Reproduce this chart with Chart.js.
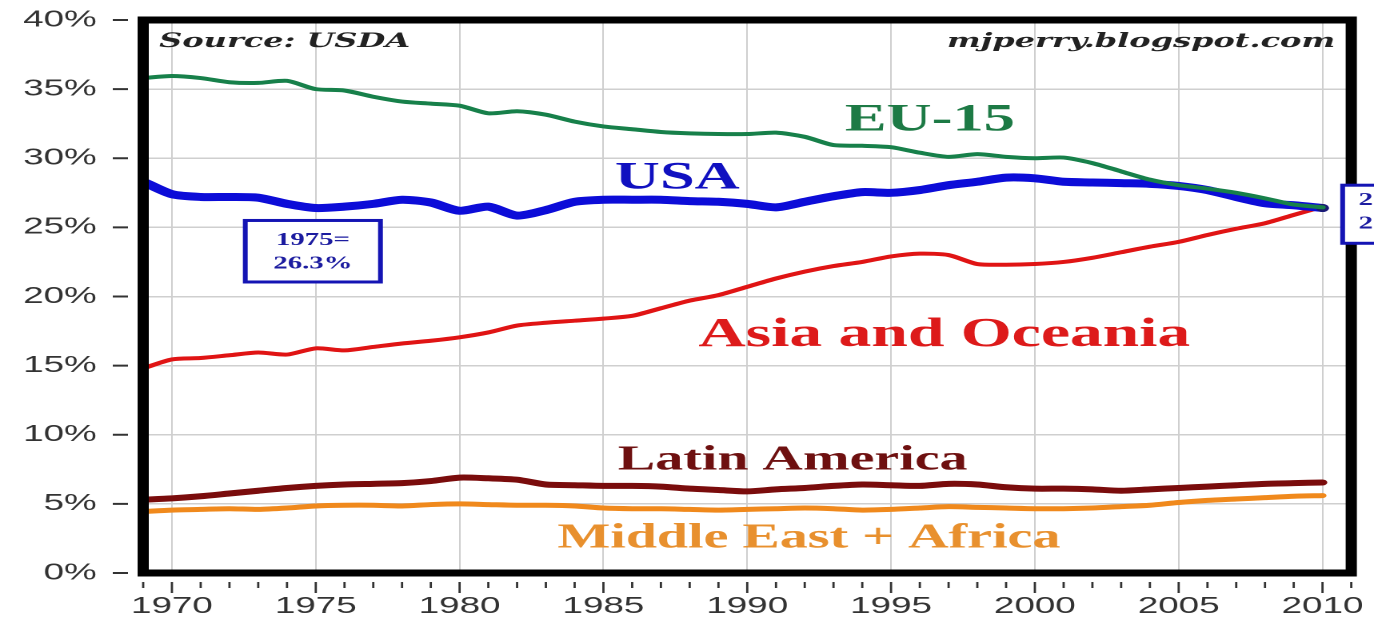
<!DOCTYPE html>
<html>
<head>
<meta charset="utf-8">
<script src="https://cdn.jsdelivr.net/npm/chart.js@4"></script>
<style>
  html, body { margin: 0; padding: 0; background: #fff; overflow: hidden; }
  /* the source picture is stretched sideways, so the chart is drawn narrow and widened */
  #wrap { width: 859px; height: 626px; transform: scaleX(1.5995); transform-origin: 0 0; }
</style>
</head>
<body>
<div id="wrap"><canvas id="myChart" width="859" height="626"></canvas></div>
<script>
// data (share of world, %)
const years = [];
for (let yr = 1969; yr <= 2010; yr++) years.push(yr);

const usa = [28.3, 27.4, 27.2, 27.2, 27.15, 26.7, 26.4, 26.5, 26.7, 27.0,
  26.8, 26.2, 26.5, 25.85, 26.25, 26.85, 27.0, 27.0, 27.0, 26.9,
  26.85, 26.7, 26.45, 26.85, 27.25, 27.55, 27.5, 27.7, 28.05, 28.3,
  28.6, 28.55, 28.3, 28.25, 28.2, 28.15, 28.0, 27.7, 27.2, 26.75,
  26.6, 26.4];
const eu15 = [35.8, 35.95, 35.8, 35.5, 35.45, 35.6, 35.0, 34.9, 34.45, 34.1,
  33.95, 33.8, 33.25, 33.4, 33.15, 32.65, 32.3, 32.1, 31.9, 31.8,
  31.75, 31.75, 31.85, 31.55, 30.95, 30.9, 30.8, 30.4, 30.1, 30.3,
  30.1, 30.0, 30.05, 29.65, 29.05, 28.45, 28.05, 27.8, 27.5, 27.1,
  26.65, 26.45];
const asia = [14.8, 15.45, 15.55, 15.75, 15.95, 15.8, 16.25, 16.1, 16.35, 16.6,
  16.8, 17.05, 17.4, 17.9, 18.1, 18.25, 18.4, 18.6, 19.15, 19.7,
  20.1, 20.7, 21.3, 21.8, 22.2, 22.5, 22.9, 23.1, 23.0, 22.35,
  22.3, 22.35, 22.5, 22.8, 23.2, 23.6, 23.95, 24.45, 24.9, 25.3,
  25.9, 26.5];
const latin = [5.3, 5.4, 5.55, 5.75, 5.95, 6.15, 6.3, 6.4, 6.45, 6.5,
  6.65, 6.9, 6.85, 6.75, 6.4, 6.35, 6.3, 6.3, 6.25, 6.1,
  6.0, 5.9, 6.05, 6.15, 6.3, 6.4, 6.35, 6.3, 6.45, 6.4,
  6.2, 6.1, 6.1, 6.05, 5.95, 6.05, 6.15, 6.25, 6.35, 6.45,
  6.5, 6.55];
const meAfrica = [4.45, 4.55, 4.6, 4.65, 4.6, 4.7, 4.85, 4.9, 4.9, 4.85,
  4.95, 5.0, 4.95, 4.9, 4.9, 4.85, 4.7, 4.65, 4.65, 4.6,
  4.55, 4.6, 4.65, 4.7, 4.65, 4.55, 4.6, 4.7, 4.8, 4.75,
  4.7, 4.65, 4.65, 4.7, 4.8, 4.9, 5.1, 5.25, 5.35, 5.45,
  5.55, 5.6];

const yTicks = [0, 5, 10, 15, 20, 25, 30, 35, 40];
const xMin = 1969, xMax = 2011;

const points = arr => arr.map((v, i) => ({ x: years[i], y: v }));

// text put on the chart, placed in data units
const notes = [
  { text: "EU-15", x: 1993.4, y: 32.75, color: "#1d7a45", size: 39 },
  { text: "USA", x: 1985.4, y: 28.55, color: "#1010c0", size: 39 },
  { text: "Asia and Oceania", x: 1988.3, y: 17.2, color: "#dd1a1a", size: 41 },
  { text: "Latin America", x: 1985.5, y: 8.15, color: "#6e1010", size: 35 },
  { text: "Middle East + Africa", x: 1983.4, y: 2.5, color: "#e8902e", size: 35 }
];

const frameAndNotes = {
  id: "frameAndNotes",
  afterDatasetsDraw(chart) {
    const { ctx, chartArea: a, scales } = chart;
    const x = scales.x, y = scales.y;
    ctx.save();

    // heavy black frame
    ctx.strokeStyle = "#000";
    ctx.lineWidth = 7;
    ctx.strokeRect(a.left, a.top, a.right - a.left, a.bottom - a.top);

    // year ticks under the frame
    ctx.strokeStyle = "#333";
    ctx.lineWidth = 1.4;
    for (let yr = xMin; yr <= xMax; yr++) {
      const px = x.getPixelForValue(yr);
      ctx.beginPath();
      ctx.moveTo(px, a.bottom + 9);
      ctx.lineTo(px, a.bottom + (yr % 5 === 0 ? 20 : 15));
      ctx.stroke();
    }
    // dashes beside the percent labels
    ctx.lineWidth = 2;
    yTicks.forEach(v => {
      const py = y.getPixelForValue(v);
      ctx.beginPath();
      ctx.moveTo(a.left - 19, py);
      ctx.lineTo(a.left - 9.5, py);
      ctx.stroke();
    });

    // source and site
    ctx.fillStyle = "#222";
    ctx.font = "italic bold 20px 'DejaVu Serif'";
    ctx.textBaseline = "middle";
    ctx.textAlign = "left";
    ctx.fillText("Source: USDA", a.left + 10, a.top + 22);
    ctx.textAlign = "right";
    ctx.fillText("mjperry.blogspot.com", a.right - 10, a.top + 22);

    // series names
    ctx.textAlign = "left";
    notes.forEach(n => {
      ctx.fillStyle = n.color;
      ctx.font = "bold " + n.size + "px 'Liberation Serif'";
      ctx.fillText(n.text, x.getPixelForValue(n.x), y.getPixelForValue(n.y));
    });

    // 1975 box
    let l = x.getPixelForValue(1972.55), r = x.getPixelForValue(1977.25);
    let t = y.getPixelForValue(25.5), b = y.getPixelForValue(21.05);
    ctx.fillStyle = "#fff";
    ctx.fillRect(l, t, r - l, b - t);
    ctx.strokeStyle = "#1414b4";
    ctx.lineWidth = 3;
    ctx.strokeRect(l, t, r - l, b - t);
    ctx.fillStyle = "#1c1ca0";
    ctx.font = "bold 18px 'Liberation Serif'";
    ctx.textAlign = "center";
    ctx.fillText("1975=", (l + r) / 2, y.getPixelForValue(24.05));
    ctx.fillText("26.3%", (l + r) / 2, y.getPixelForValue(22.35));

    // 2010 box, cut by the picture edge
    l = x.getPixelForValue(2010.7);
    t = y.getPixelForValue(28.05);
    b = y.getPixelForValue(23.85);
    ctx.fillStyle = "#fff";
    ctx.fillRect(l, t, 60, b - t);
    ctx.strokeStyle = "#1414b4";
    ctx.strokeRect(l, t, 60, b - t);
    ctx.fillStyle = "#1c1ca0";
    ctx.textAlign = "left";
    ctx.fillText("2010=", l + 10, y.getPixelForValue(26.95));
    ctx.fillText("26.4%", l + 10, y.getPixelForValue(25.25));

    ctx.restore();
  }
};

const data = {
  datasets: [
    { label: "Middle East + Africa", data: points(meAfrica), borderColor: "#f0891c", borderWidth: 5 },
    { label: "Latin America", data: points(latin), borderColor: "#7a0c0c", borderWidth: 6 },
    { label: "EU-15", data: points(eu15), borderColor: "#17804a", borderWidth: 4 },
    {
      label: "USA", data: points(usa), borderColor: "#0c0cd8", borderWidth: 8,
      pointRadius: c => (c.dataIndex === usa.length - 1 ? 4 : 0),
      pointBackgroundColor: "#1a1a70", pointBorderWidth: 0
    },
    { label: "Asia and Oceania", data: points(asia), borderColor: "#e01414", borderWidth: 4 }
  ]
};

const config = {
  type: "line",
  data: data,
  options: {
    responsive: false,
    animation: false,
    devicePixelRatio: 2,
    layout: { padding: { top: 20, right: 14.2, left: 0, bottom: 0 } },
    elements: {
      line: { tension: 0.25, borderCapStyle: "round", borderJoinStyle: "round" },
      point: { radius: 0 }
    },
    scales: {
      x: {
        type: "linear",
        min: xMin,
        max: xMax,
        afterFit: s => { s.height = 53; s.paddingLeft = 0; s.paddingRight = 0; },
        border: { display: false },
        grid: {
          drawTicks: false,
          lineWidth: 1,
          color: c => (c.tick && c.tick.value % 5 === 0 ? "#cfcfcf" : "rgba(0,0,0,0)")
        },
        ticks: {
          stepSize: 1,
          autoSkip: false,
          maxRotation: 0,
          padding: 20,
          color: "#333",
          font: { family: "'Liberation Sans', Arial", size: 23 },
          callback: v => (v % 5 === 0 ? String(v) : "")
        }
      },
      y: {
        min: 0,
        max: 40,
        afterFit: s => { s.width = 89.5; s.paddingTop = 0; s.paddingBottom = 0; },
        border: { display: false },
        grid: { drawTicks: false, color: "#cfcfcf", lineWidth: 1.5 },
        ticks: {
          stepSize: 5,
          padding: 29,
          color: "#333",
          font: { family: "'Liberation Sans', Arial", size: 23 },
          callback: v => v + "%"
        }
      }
    },
    plugins: {
      legend: { display: false },
      tooltip: { enabled: false }
    }
  },
  plugins: [frameAndNotes]
};

var ctx = document.getElementById("myChart").getContext("2d");
var myChart = new Chart(ctx, config);
</script>
</body>
</html>
